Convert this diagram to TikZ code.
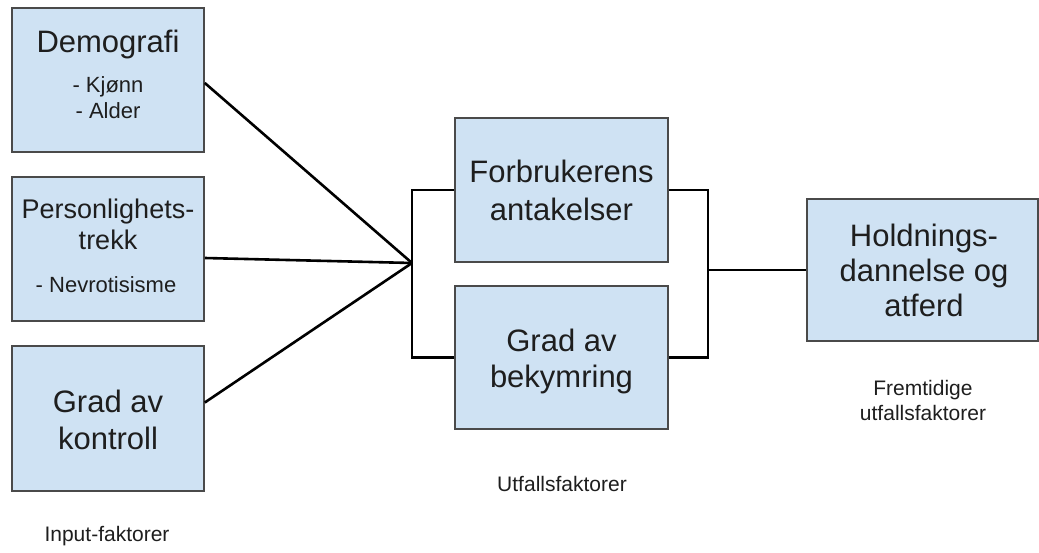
\documentclass[tikz,border=0pt]{standalone}
\usepackage{fontspec}
\setmainfont{Liberation Sans}
\definecolor{boxfill}{HTML}{CFE2F3}
\definecolor{boxline}{HTML}{4A4A4A}
\definecolor{txt}{HTML}{1E1E1E}
\tikzset{
  fbox/.style={draw=boxline, fill=boxfill, line width=1.6pt, inner sep=0pt, rectangle},
  conn/.style={draw=black, line width=2.6pt, line join=miter},
  bigtxt/.style={anchor=base, inner sep=0pt, text=txt, font=\fontsize{31}{36}\selectfont},
  midtxt/.style={anchor=base, inner sep=0pt, text=txt, font=\fontsize{27}{31}\selectfont},
  smalltxt/.style={anchor=base, inner sep=0pt, text=txt, font=\fontsize{22}{26}\selectfont},
  captxt/.style={anchor=base, inner sep=0pt, text=txt, font=\fontsize{21}{25}\selectfont},
}
\begin{document}
\begin{tikzpicture}[x=1pt, y=-1pt]
\useasboundingbox (0,0) rectangle (1039,553);
% boxes
\node[fbox, minimum width=192pt, minimum height=144pt] (demo) at (108,80) {};
\node[fbox, minimum width=192pt, minimum height=144pt] (pers) at (108,249) {};
\node[fbox, minimum width=192pt, minimum height=145pt] (kont) at (108,418.5) {};
\node[fbox, minimum width=213pt, minimum height=144pt] (forb) at (561.5,190) {};
\node[fbox, minimum width=213pt, minimum height=143pt] (bek) at (561.5,357.5) {};
\node[fbox, minimum width=231pt, minimum height=142pt] (hold) at (922.5,270) {};
% texts
\node[bigtxt] (t1) at (108,53) {Demografi};
\node[smalltxt] (t2) at (108,93) {- Kjønn};
\node[smalltxt] (t3) at (108,119) {- Alder};
\node[midtxt] (t4) at (108,219) {Personlighets-};
\node[midtxt] (t5) at (108,250) {trekk};
\node[smalltxt] (t6) at (106,293) {- Nevrotisisme};
\node[bigtxt] (t7) at (108,412) {Grad av};
\node[bigtxt] (t8) at (108,449) {kontroll};
\node[bigtxt] (t9) at (561.5,183) {Forbrukerens};
\node[bigtxt] (t10) at (561.5,221) {antakelser};
\node[bigtxt] (t11) at (561.5,352) {Grad av};
\node[bigtxt] (t12) at (561.5,388) {bekymring};
\node[bigtxt] (t13) at (924,247) {Holdnings-};
\node[bigtxt] (t14) at (924,282) {dannelse og};
\node[bigtxt] (t15) at (924,317) {atferd};
% captions
\node[captxt] (c1) at (107,541) {Input-faktorer};
\node[captxt] (c2) at (562,491) {Utfallsfaktorer};
\node[captxt] (c3) at (923,395) {Fremtidige};
\node[captxt] (c4) at (923,420) {utfallsfaktorer};
% connectors
\coordinate (hub) at (412,263);
\coordinate (rhub) at (708,270);
\draw[conn] ([yshift=-3pt]demo.east) -- (hub);
\draw[conn] ([yshift=-9pt]pers.east) -- (hub);
\draw[conn] ([yshift=16pt]kont.east) -- (hub);
\draw[conn] (forb.west) -| (hub) |- (bek.west);
\draw[conn] (forb.east) -| (rhub) |- (bek.east);
\draw[conn] (rhub) -- (hold.west);
\end{tikzpicture}
\end{document}
